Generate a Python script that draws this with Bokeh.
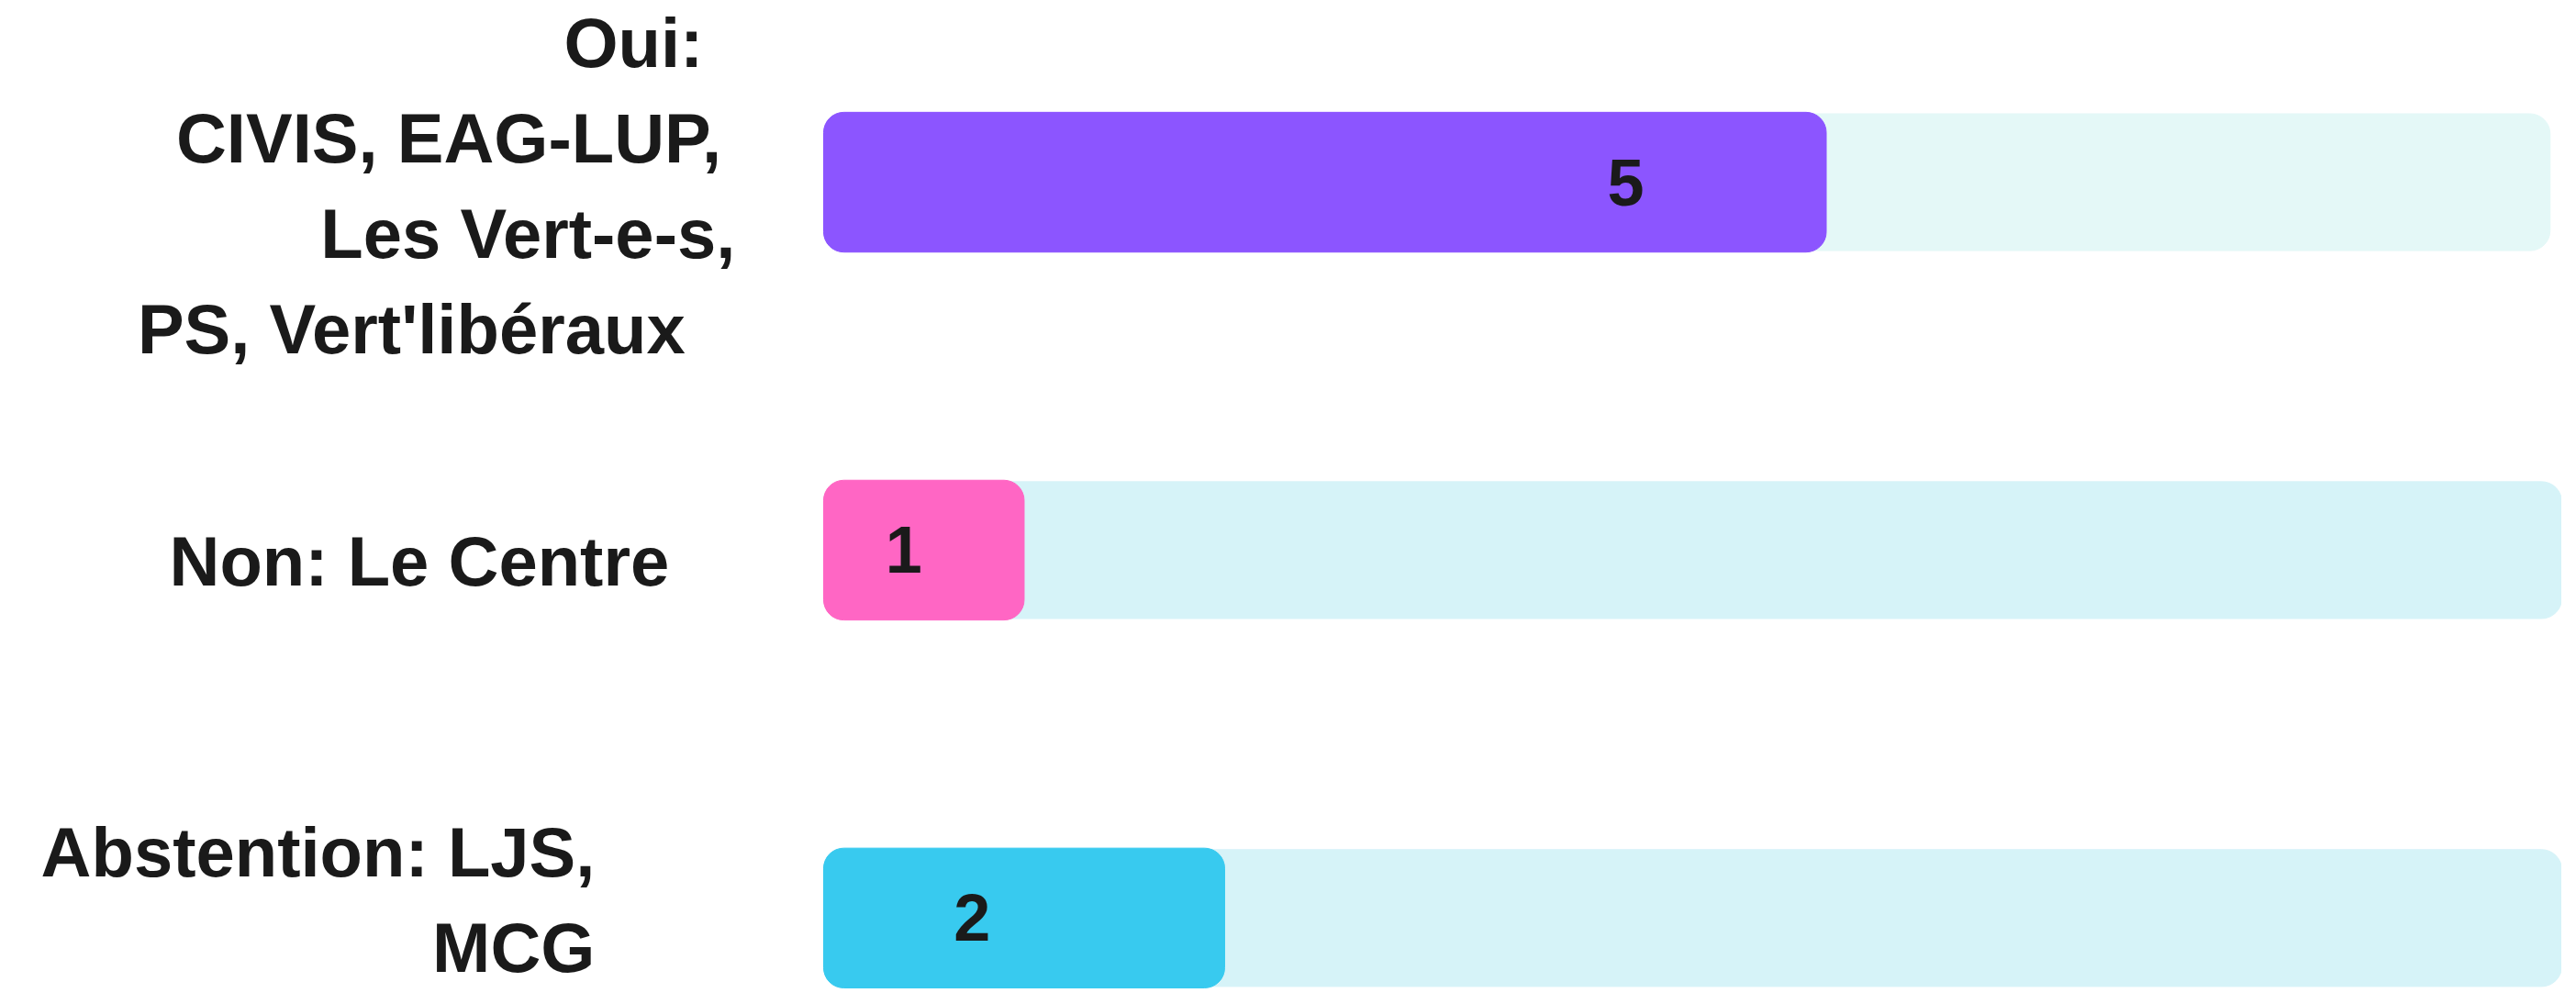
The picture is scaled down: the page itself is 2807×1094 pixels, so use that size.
from bokeh.plotting import figure
from bokeh.models import Range1d, ColumnDataSource
from bokeh.core.properties import value
from bokeh.embed import file_html
from bokeh.resources import INLINE

# ---- data ----
categories = ["Oui", "Non", "Abstention"]
label_lines = [
    ["Oui:", "CIVIS, EAG-LUP,", "Les Vert-e-s,", "PS, Vert'libéraux"],
    ["Non: Le Centre"],
    ["Abstention: LJS,", "MCG"],
]
votes = [5, 1, 2]

# ---- style ----
bar_colors = ["#8C55FF", "#FF66C4", "#38CAEF"]
track_colors = ["#E4F8F7", "#D6F3F8", "#D6F3F8"]
track_end = [8.61, 9.5, 9.5]
value_pos_frac = [0.80, 0.40, 0.37]
label_right = [[-0.60, -0.51, -0.44, -0.69], [-0.77], [-1.14, -1.14]]
label_row_shift = [0.01, 0.03, -0.05]
line_step = 0.26
text_color = "#1A1A1A"
FONT = value("Liberation Sans")

rows = list(range(len(categories)))

p = figure(width=2791, height=1078, x_range=Range1d(-4.105, 8.668),
           y_range=Range1d(2.195, -0.494), min_border=0,
           toolbar_location=None, output_backend="svg")
p.axis.visible = False
p.grid.visible = False
p.outline_line_color = None
p.background_fill_color = "white"

track_src = ColumnDataSource(dict(y=rows, right=track_end, color=track_colors))
p.hbar(y="y", left=0, right="right", height=0.372, color="color",
       source=track_src, border_radius=22)

bar_src = ColumnDataSource(dict(y=rows, right=votes, color=bar_colors))
p.hbar(y="y", left=0, right="right", height=0.38, color="color",
       source=bar_src, border_radius=22)

val_src = ColumnDataSource(dict(
    x=[v * f for v, f in zip(votes, value_pos_frac)],
    y=rows, text=[str(v) for v in votes]))
p.text(x="x", y="y", text="text", source=val_src, text_font=FONT,
       text_font_style="bold", text_font_size="72px", text_color=text_color,
       text_align="center", text_baseline="middle")

lx, ly, lt = [], [], []
for r, lines in enumerate(label_lines):
    n = len(lines)
    for i, line in enumerate(lines):
        lt.append(line)
        ly.append(r + label_row_shift[r] + (i - (n - 1) / 2) * line_step)
        lx.append(label_right[r][i])
lab_src = ColumnDataSource(dict(x=lx, y=ly, text=lt))
p.text(x="x", y="y", text="text", source=lab_src, text_font=FONT,
       text_font_style="bold", text_font_size="76px", text_color=text_color,
       text_align="right", text_baseline="middle")

open("out.html", "w").write(file_html(p, INLINE))
